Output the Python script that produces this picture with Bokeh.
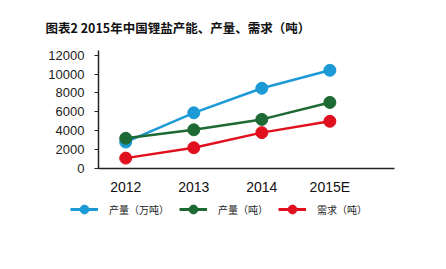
from bokeh.plotting import figure
from bokeh.models import Legend, LegendItem, Range1d, FixedTicker, Title
from bokeh.layouts import column, row
from bokeh.embed import file_html
from bokeh.resources import INLINE

years = ["2012", "2013", "2014", "2015E"]
capacity = [2800, 5900, 8500, 10400]     # 产量（万吨）
production = [3200, 4100, 5200, 7000]    # 产量（吨）
demand = [1100, 2200, 3800, 5000]        # 需求（吨）
y_ticks = [0, 2000, 4000, 6000, 8000, 10000, 12000]
labels = ["产量（万吨）", "产量（吨）", "需求（吨）"]
colors = ["#1B9AD6", "#1D6A34", "#E1101E"]

xs = list(range(len(years)))
FONT = "Liberation Sans"
CJK = "Noto Sans CJK SC"

p = figure(width=446, height=198, output_backend="svg", toolbar_location=None,
           x_range=Range1d(-0.4, 3.95), y_range=Range1d(0, 12500),
           min_border_left=98, min_border_right=52, min_border_top=50, min_border_bottom=30)
p.outline_line_color = None
p.grid.visible = False
p.background_fill_color = "white"
p.border_fill_color = "white"

p.xaxis.ticker = FixedTicker(ticks=xs)
p.xaxis.major_label_overrides = {i: y for i, y in enumerate(years)}
p.xaxis.major_tick_line_color = None
p.xaxis.minor_tick_line_color = None
p.xaxis.axis_line_color = "#222222"
p.xaxis.axis_line_width = 1.5
p.xaxis.major_label_text_font = FONT
p.xaxis.major_label_text_font_size = "14px"
p.xaxis.major_label_text_color = "#111111"
p.xaxis.major_label_standoff = 4

p.yaxis.ticker = FixedTicker(ticks=y_ticks)
p.yaxis.minor_tick_line_color = None
p.yaxis.major_tick_out = 4
p.yaxis.major_tick_in = 0
p.yaxis.axis_line_color = "#222222"
p.yaxis.axis_line_width = 1.5
p.yaxis.major_tick_line_color = "#222222"
p.yaxis.major_label_text_font = FONT
p.yaxis.major_label_text_font_size = "13px"
p.yaxis.major_label_text_color = "#222222"
p.yaxis.major_label_standoff = 10

series = [capacity, production, demand]
for vals, color in zip(series, colors):
    p.line(xs, vals, line_color=color, line_width=2.5)
    p.scatter(xs, vals, size=12, fill_color=color, line_color=color)

t = Title(text="图表2 2015年中国锂盐产能、产量、需求（吨）", text_font=CJK, text_font_size="12.5px",
          text_font_style="bold", text_color="#111111", align="left", offset=-53, standoff=28)
p.add_layout(t, "above")

# legend strip below the chart (series drawn outside its visible range, only legend shows)
lg = figure(width=446, height=71, output_backend="svg", toolbar_location=None,
            x_range=Range1d(-0.4, 3.95), y_range=Range1d(-2, -1),
            x_axis_location=None, y_axis_location=None,
            min_border_left=0, min_border_right=0, min_border_top=0, min_border_bottom=0)
lg.outline_line_color = None
lg.grid.visible = False
lg.border_fill_color = "white"
lg.background_fill_color = "white"
items = []
for label, vals, color in zip(labels, series, colors):
    l = lg.line(xs, vals, line_color=color, line_width=3)
    c = lg.scatter(xs, vals, size=12, fill_color=color, line_color=color)
    items.append(LegendItem(label=label, renderers=[l, c]))
legend = Legend(items=items, orientation="horizontal", location=(70, 49),
                background_fill_alpha=0, border_line_color=None,
                label_text_font=CJK, label_text_font_size="10px", label_text_color="#222222",
                glyph_width=28, glyph_height=22, label_standoff=11, spacing=10, padding=0, margin=0)
lg.add_layout(legend, "center")

open("out.html", "w").write(file_html(column(p, row(lg), spacing=0), INLINE))
